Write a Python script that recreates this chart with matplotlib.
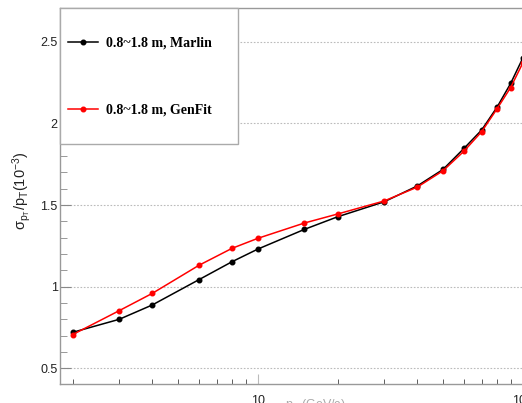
import matplotlib
matplotlib.use('Agg')
import matplotlib.pyplot as plt
from matplotlib.patches import Rectangle
from matplotlib.ticker import LogLocator, MultipleLocator, FixedFormatter, FixedLocator

# pT points (GeV) and resolution (10^-3)
pt = [2, 3, 4, 6, 8, 10, 15, 20, 30, 40, 50, 60, 70, 80, 90, 100]
marlin = [0.72, 0.80, 0.888, 1.043, 1.153, 1.23, 1.351, 1.428, 1.52, 1.617,
          1.718, 1.847, 1.96, 2.10, 2.245, 2.40]
genfit = [0.706, 0.853, 0.959, 1.131, 1.235, 1.296, 1.39, 1.445, 1.525, 1.61,
          1.71, 1.83, 1.95, 2.09, 2.22, 2.37]
labels = ['0.8~1.8 m, Marlin', '0.8~1.8 m, GenFit']
x_ticks = [10, 100]
x_tick_labels = ['10', '100']

W, H = 522, 403
plt.rcParams['font.family'] = ['Liberation Sans', 'DejaVu Sans']
plt.rcParams['mathtext.fontset'] = 'custom'
plt.rcParams['mathtext.rm'] = 'Liberation Sans'
plt.rcParams['mathtext.default'] = 'regular'

fig = plt.figure(figsize=(W / 100, H / 100), dpi=100)
# axes placed in pixels; the right part falls outside the picture
x0, x1 = 60.4, 60.4 + 265 * 1.824
y_top, y_bot = 8, 384.3
ax = fig.add_axes([x0 / W, 1 - y_bot / H, (x1 - x0) / W, (y_bot - y_top) / H])

ax.plot(pt, marlin, color='black', marker='o', markersize=3.3, lw=1.1, label=labels[0], zorder=3)
ax.plot(pt, genfit, color='red', marker='o', markersize=3.3, lw=1.1, label=labels[1], zorder=3)

ax.set_xscale('log')
ax.set_xlim(1.8, 120)
ax.set_ylim(0.402, 2.707)

ax.xaxis.set_major_locator(FixedLocator(x_ticks))
ax.xaxis.set_major_formatter(FixedFormatter(x_tick_labels))
ax.xaxis.set_minor_locator(LogLocator(base=10, subs=range(2, 10)))
ax.xaxis.set_minor_formatter(FixedFormatter([]))
ax.yaxis.set_major_locator(MultipleLocator(0.5))
ax.yaxis.set_minor_locator(MultipleLocator(0.1))
ax.set_yticks([0.5, 1, 1.5, 2, 2.5])
ax.set_yticklabels(['0.5', '1', '1.5', '2', '2.5'])

ax.tick_params(axis='both', which='both', direction='in', labelsize=9, labelcolor='#222222')
ax.tick_params(axis='x', which='major', length=7.5, color='#bbbbbb', pad=8)
ax.tick_params(axis='x', which='minor', length=3.6, color='#444444')
ax.tick_params(axis='y', which='major', length=8, color='#888888', pad=2)
ax.tick_params(axis='y', which='minor', length=5, color='#888888')

ax.grid(True, axis='y', which='major', color='#bbbbbb', linestyle=(0, (1.5, 1.5)), lw=0.8)
for side in ['left', 'bottom', 'top', 'right']:
    ax.spines[side].set_color('#999999')
    ax.spines[side].set_linewidth(1.0)

# legend box
box = Rectangle((60 / W, 1 - 144 / H), (238 - 60) / W, (144 - 8) / H,
                transform=fig.transFigure, facecolor='white', edgecolor='#aaaaaa',
                lw=1.0, zorder=5)
fig.patches.append(box)
leg = fig.legend(loc='upper left', bbox_to_anchor=(61 / W, 1 - 30 / H),
                 bbox_transform=fig.transFigure, frameon=False, borderpad=0,
                 labelspacing=3.85, handlelength=2.16, handletextpad=0.58,
                 prop={'family': 'Liberation Serif', 'weight': 'bold', 'size': 10})
leg.set_zorder(6)

fig.text(22 / W, 1 - 191 / H, r'$\sigma_{p_{T}}/p_{T}(10^{-3})$', rotation=90,
         ha='center', va='center', fontsize=10.5, color='#222222')
fig.text(285 / W, 1 - 397 / H, r'$p_{T}$ (GeV/c)', ha='left', va='top',
         fontsize=9, color='#aaaaaa')

fig.savefig('out.png', dpi=100)
